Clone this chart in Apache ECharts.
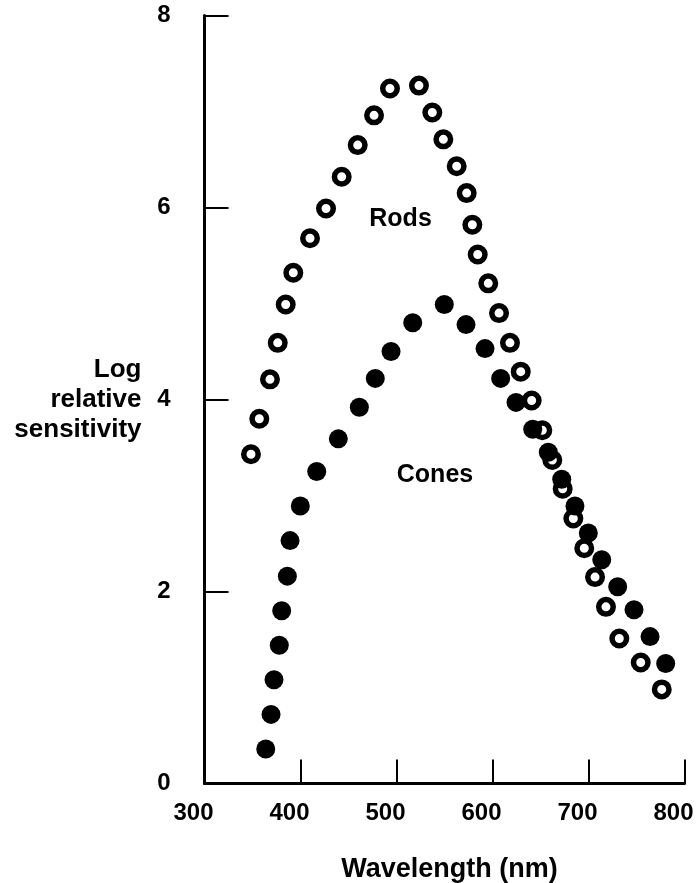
<!DOCTYPE html>
<html>
<head>
<meta charset="utf-8">
<script src="https://cdn.jsdelivr.net/npm/echarts@6/dist/echarts.min.js"></script>
<style>
html,body{margin:0;padding:0;background:#fff;}
#chart{width:699px;height:883px;}
</style>
</head>
<body>
<div id="chart"></div>
<script>
// Rods (open circles): wavelength (nm), log relative sensitivity
var rodsX = [348.4,357.1,368.2,376.3,384.6,392.5,409.9,426.6,442.9,459.6,476.6,493.2,523.4,537.3,548.8,562.7,573.1,579.0,584.6,595.6,606.8,618.2,629.4,640.8,651.9,662.3,673.1,684.2,695.6,706.8,718.2,732.1,754.4,776.3];
var rodsY = [3.43,3.80,4.21,4.59,4.99,5.32,5.68,5.99,6.32,6.65,6.96,7.24,7.27,6.99,6.71,6.43,6.15,5.82,5.51,5.21,4.90,4.59,4.29,3.99,3.68,3.37,3.07,2.76,2.45,2.15,1.84,1.51,1.26,0.98];
// Cones (filled circles)
var conesX = [363.8,369.3,372.4,377.9,380.4,386.3,389.1,399.8,416.9,439.4,461.3,477.9,494.3,516.9,549.8,572.4,592.2,608.5,624.5,641.9,658.1,672.1,685.9,699.8,713.8,730.4,747.4,764.1,780.4];
var conesY = [0.36,0.72,1.08,1.44,1.80,2.16,2.53,2.89,3.25,3.59,3.92,4.22,4.50,4.80,4.99,4.78,4.53,4.22,3.97,3.69,3.45,3.17,2.89,2.61,2.33,2.05,1.81,1.53,1.25];
// Annotations
var annoText = ['Rods','Cones'];
var annoX = [504.2, 540.1];
var annoY = [5.88, 3.21];
// Axis
var xTicks = [300,400,500,600,700,800];
var yTicks = [0,2,4,6,8];
var xTitle = 'Wavelength (nm)';
var yTitle = 'Log\nrelative\nsensitivity';

function zip(a,b){var r=[];for(var i=0;i<a.length;i++)r.push([a[i],b[i]]);return r;}
var anno=[];for(var i=0;i<annoText.length;i++)anno.push([annoX[i],annoY[i],annoText[i]]);

var FONT = '"Liberation Sans", Arial, sans-serif';
var chart = echarts.init(document.getElementById('chart'), null, {renderer:'canvas'});
chart.setOption({
  animation:false,
  backgroundColor:'#ffffff',
  grid:{left:204.5,right:14.5,top:15.5,bottom:99.5,containLabel:false,outerBoundsMode:'none'},
  xAxis:{
    type:'value', min:xTicks[0], max:xTicks[xTicks.length-1], interval:100,
    name:xTitle, nameLocation:'middle', nameGap:73,
    nameTextStyle:{color:'#000',fontFamily:FONT,fontWeight:'bold',fontSize:27,padding:[0,0,0,10]},
    axisLine:{show:true,onZero:false,lineStyle:{color:'#000',width:3}},
    axisTick:{show:true,inside:true,length:24,lineStyle:{color:'#000',width:2}},
    axisLabel:{color:'#000',fontFamily:FONT,fontWeight:'bold',fontSize:24,margin:18,padding:[0,22,0,0]},
    splitLine:{show:false}
  },
  yAxis:{
    type:'value', min:yTicks[0], max:yTicks[yTicks.length-1], interval:2,
    name:yTitle, nameLocation:'middle', nameGap:63, nameRotate:0,
    nameTextStyle:{color:'#000',fontFamily:FONT,fontWeight:'bold',fontSize:26,lineHeight:30,align:'right',verticalAlign:'middle'},
    axisLine:{show:true,onZero:false,lineStyle:{color:'#000',width:3}},
    axisTick:{show:true,inside:true,length:24,lineStyle:{color:'#000',width:2}},
    axisLabel:{color:'#000',fontFamily:FONT,fontWeight:'bold',fontSize:24,margin:34,padding:[16,0,0,0]},
    splitLine:{show:false}
  },
  series:[
    {type:'scatter',name:'Rods',data:zip(rodsX,rodsY),clip:false,symbol:'circle',symbolSize:14.5,
     itemStyle:{color:'#fff',borderColor:'#000',borderWidth:5.5,opacity:1}},
    {type:'scatter',name:'Cones',data:zip(conesX,conesY),clip:false,symbol:'circle',symbolSize:19,
     itemStyle:{color:'#000',opacity:1}},
    {type:'scatter',name:'labels',data:anno,clip:false,symbolSize:0,silent:true,itemStyle:{color:'#000',opacity:1},
     label:{show:true,position:'inside',formatter:function(p){return p.value[2];},color:'#000',opacity:1,textBorderWidth:0,fontFamily:FONT,fontWeight:'bold',fontSize:25}}
  ]
});
</script>
</body>
</html>
